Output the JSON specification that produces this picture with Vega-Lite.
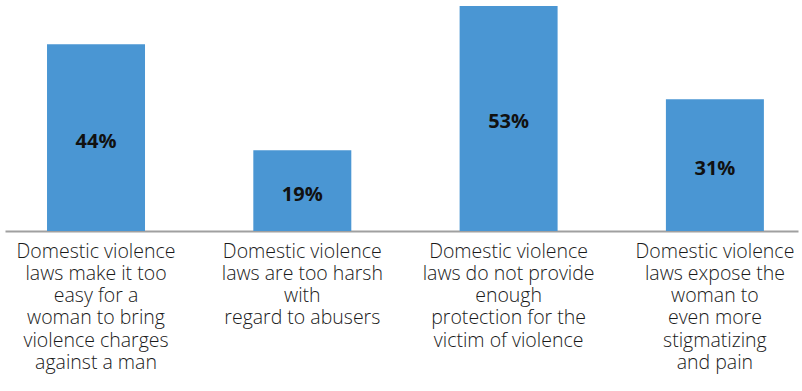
{
  "$schema": "https://vega.github.io/schema/vega-lite/v6.json",
  "width": 793,
  "height": 231,
  "padding": {"left": 5, "top": 0, "right": 4, "bottom": 20},
  "background": "white",
  "data": {"values": [
    {"cat": "Domestic violence|laws make it too|easy for a|woman to bring|violence charges|against a man", "value": 44},
    {"cat": "Domestic violence|laws are too harsh|with|regard to abusers", "value": 19},
    {"cat": "Domestic violence|laws do not provide|enough|protection for the|victim of violence", "value": 53},
    {"cat": "Domestic violence|laws expose the|woman to|even more|stigmatizing|and pain", "value": 31}
  ]},
  "config": {"view": {"stroke": null}, "font": "Open Sans"},
  "encoding": {
    "x": {
      "field": "cat", "type": "nominal", "sort": null,
      "scale": {"paddingInner": 0.525, "paddingOuter": 0.1845, "align": 0.552},
      "axis": {
        "title": null, "labelAngle": 0, "ticks": false,
        "labelExpr": "split(datum.label, '|')",
        "labelFont": "Open Sans", "labelFontSize": 19.5, "labelFontWeight": 300, "labelColor": "#1a1a1a",
        "labelLineHeight": 22.3, "labelPadding": 11, "labelLimit": 0,
        "domainColor": "#a0a0a0", "domainWidth": 2
      }
    }
  },
  "layer": [
    {
      "mark": {"type": "bar", "color": "#4a96d3"},
      "encoding": {
        "y": {"field": "value", "type": "quantitative", "scale": {"domain": [0, 54.4], "nice": false}, "axis": null}
      }
    },
    {
      "transform": [
        {"calculate": "datum.value / 2", "as": "mid"},
        {"calculate": "datum.value + '%'", "as": "lbl"}
      ],
      "mark": {"type": "text", "font": "Open Sans", "fontSize": 20, "fontWeight": "bold", "color": "#111111", "baseline": "middle", "dy": 4},
      "encoding": {
        "y": {"field": "mid", "type": "quantitative", "scale": {"domain": [0, 54.4], "nice": false}, "axis": null},
        "text": {"field": "lbl", "type": "nominal"}
      }
    }
  ]
}
